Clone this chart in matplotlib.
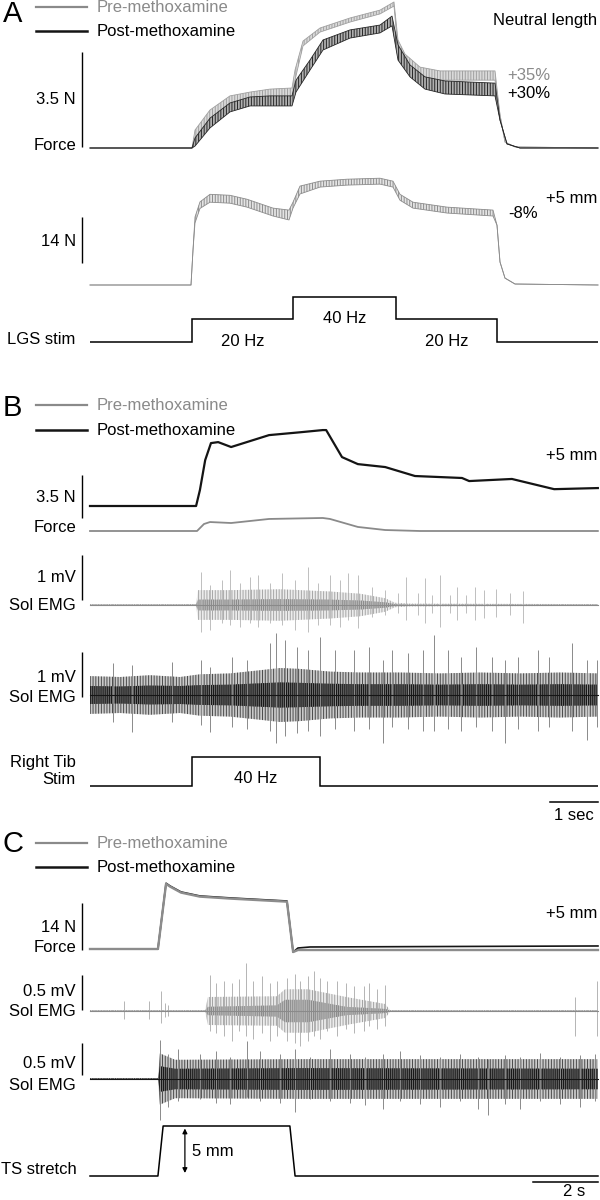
import numpy as np
import matplotlib
matplotlib.use("Agg")
import matplotlib.pyplot as plt

plt.rcParams['font.family'] = ['Liberation Sans', 'DejaVu Sans']
plt.rcParams['hatch.linewidth'] = 0.7

# ======================= DATA =======================
# ---- Panel A (time s, force N) ----
a1_pre_t  = [0, 1.02, 1.05, 1.20, 1.40, 1.60, 1.80, 2.02, 2.05, 2.13, 2.30, 2.60, 2.90, 3.04, 3.08, 3.15, 3.30, 3.50, 4.05, 4.10, 4.15, 4.25, 5.08]
a1_pre_hi = [0, 0, 0.66, 1.40, 1.92, 2.06, 2.17, 2.21, 2.87, 3.94, 4.42, 4.79, 5.08, 5.38, 3.98, 3.46, 2.98, 2.84, 2.84, 1.22, 0.22, 0.04, 0]
a1_pre_lo = [0, 0, 0.29, 1.03, 1.55, 1.69, 1.73, 1.73, 2.50, 3.76, 4.27, 4.64, 4.94, 5.23, 3.61, 3.17, 2.65, 2.50, 2.50, 1.22, 0.22, 0.04, 0]
a1_post_t  = [0, 1.02, 1.05, 1.20, 1.40, 1.60, 1.80, 2.02, 2.06, 2.20, 2.33, 2.60, 2.90, 3.02, 3.08, 3.20, 3.35, 3.55, 4.05, 4.10, 4.17, 4.30, 5.08]
a1_post_hi = [0, 0, 0.37, 1.10, 1.66, 1.88, 1.92, 1.92, 2.50, 3.24, 3.98, 4.35, 4.53, 4.86, 3.80, 3.06, 2.62, 2.47, 2.39, 1.03, 0.15, 0, 0]
a1_post_lo = [0, 0, 0.07, 0.74, 1.33, 1.55, 1.55, 1.55, 2.06, 2.87, 3.61, 4.05, 4.24, 4.50, 3.24, 2.62, 2.17, 1.99, 1.92, 1.03, 0.15, 0, 0]

a2_t      = [0, 1.01, 1.03, 1.05, 1.10, 1.20, 1.40, 1.57, 1.83, 1.99, 2.03, 2.10, 2.30, 2.57, 2.90, 3.03, 3.10, 3.23, 3.57, 4.03, 4.07, 4.10, 4.15, 4.25, 5.08]
a2_force  = [0, 0, 10.6, 19.8, 24.3, 26.4, 26.1, 24.9, 22.2, 21.3, 24.3, 28.9, 30.7, 31.3, 31.6, 30.7, 26.7, 24.3, 22.8, 21.9, 18.2, 7.0, 2.1, 0.3, 0]
a2_ripple = [0, 0, 0, 0.9, 1.0, 1.2, 1.2, 1.2, 1.2, 1.5, 0.9, 1.2, 0.9, 0.9, 0.9, 0.9, 0.9, 0.9, 0.9, 0.9, 0, 0, 0, 0, 0]

lgs_edges = [0, 1.02, 2.03, 3.06, 4.07, 5.08]
lgs_hz    = [0, 20, 40, 20, 0]
lgs_labels = ["20 Hz", "40 Hz", "20 Hz"]

# ---- Panel B (time s) ----
b_pre_t  = [0, 2.23, 2.375, 2.5, 2.94, 3.73, 4.85, 5.0, 5.58, 6.15, 6.875, 10.58]
b_pre_f  = [0, 0, 0.57, 0.73, 0.65, 0.98, 1.06, 0.98, 0.33, 0.08, 0, 0]
b_post_t = [0, 2.21, 2.29, 2.40, 2.52, 2.67, 2.94, 3.73, 4.375, 4.85, 4.92, 5.25, 5.58, 6.15, 6.77, 7.75, 7.9, 8.79, 9.67, 10.58]
b_post_f = [0, 0, 1.3, 3.74, 5.12, 5.2, 4.8, 5.77, 6.0, 6.18, 6.18, 3.98, 3.41, 3.17, 2.44, 2.28, 2.03, 2.2, 1.37, 1.46]

# pre-methoxamine Sol EMG (mV)
b_pre_env_t = [0, 2.21, 2.25, 2.92, 3.96, 5.0, 5.63, 6.15, 6.35, 6.67, 10.58]
b_pre_env   = [0.02, 0.02, 0.33, 0.33, 0.35, 0.30, 0.25, 0.15, 0.05, 0.03, 0.02]
b_pre_core  = [0.01, 0.01, 0.12, 0.12, 0.13, 0.12, 0.10, 0.06, 0.02, 0.01, 0.01]
b_pre_spk_t = [2.31, 2.5, 2.75, 2.92, 3.13, 3.33, 3.5, 3.75, 4.0, 4.27, 4.54, 4.75, 5.0, 5.21, 5.38, 5.58, 5.88, 6.15, 6.42, 6.58, 6.83, 6.98, 7.13, 7.29, 7.5, 7.65, 7.83, 8.02, 8.21, 8.46, 8.75, 9.02]
b_pre_spk_up = [.73, .44, .56, .78, .49, .62, .67, .49, .71, .56, .84, .49, .67, .56, .71, .67, .40, .33, .27, .62, .27, .60, .22, .67, .22, .40, .22, .40, .33, .36, .27, .31]
b_pre_spk_dn = [.60, .56, .40, .44, .49, .40, .49, .40, .44, .56, .60, .44, .44, .49, .33, .51, .27, .22, .18, .33, .22, .40, .18, .49, .18, .33, .18, .33, .29, .27, .22, .40]

# post-methoxamine Sol EMG (mV)
b_post_env_t = [0, 0.625, 1.25, 1.875, 2.29, 2.92, 3.54, 3.96, 4.375, 5.0, 5.625, 6.46, 7.29, 8.125, 8.96, 9.79, 10.58]
b_post_env   = [.42, .40, .44, .40, .46, .48, .55, .60, .58, .52, .50, .50, .48, .50, .48, .50, .48]
b_post_core  = [.20, .19, .21, .20, .22, .23, .26, .28, .27, .25, .24, .24, .23, .24, .23, .24, .23]
b_post_spk_t = [.48, .88, 1.71, 2.31, 2.5, 2.96, 3.27, 3.75, 3.88, 4.06, 4.31, 4.54, 4.79, 5.10, 5.5, 5.81, 6.1, 6.29, 6.63, 6.94, 7.17, 7.46, 7.73, 8.04, 8.38, 8.65, 8.92, 9.33, 9.56, 10.04, 10.35, 10.56]
b_post_spk_up = [.71, .67, .73, .78, .62, .84, .78, 1.16, 1.38, 1.22, 1.07, 1.0, 1.29, 1.0, 1.0, 1.07, .78, 1.0, .93, 1.0, 1.33, 1.0, .84, 1.07, .84, .78, .84, 1.0, .84, 1.16, .78, .78]
b_post_spk_dn = [.60, .82, .60, .67, .82, .70, .75, .80, 1.07, .90, .85, .80, .90, .75, .80, .75, 1.07, .70, .75, .80, .80, .75, .80, .70, .80, 1.07, .75, .80, .70, .80, 1.0, .70]

rtib_edges = [0, 2.125, 4.79, 10.58]
rtib_hz    = [0, 40, 0]

# ---- Panel C (time s) ----
c_t      = [0, 2.09, 2.34, 2.46, 2.80, 3.38, 4.34, 6.06, 6.25, 6.40, 6.77, 15.63]
c_post_f = [0, 0, 19.6, 18.8, 17.0, 15.8, 15.2, 14.3, -0.9, 0.3, 0.6, 0.9]
c_pre_f  = [0, 0, 19.4, 18.6, 16.8, 15.6, 15.0, 14.1, -0.9, -0.3, -0.3, -0.3]

c_pre_env_t = [0, 3.54, 3.63, 5.75, 6.0, 6.71, 7.88, 9.08, 9.23, 15.63]
c_pre_env   = [.014, .014, .20, .21, .31, .31, .20, .10, .014, .014]
c_pre_core  = [.007, .007, .06, .08, .16, .16, .06, .03, .007, .007]
c_pre_spk_t = [1.05, 1.82, 2.18, 2.31, 2.4, 3.69, 3.88, 4.12, 4.37, 4.58, 4.8, 5.02, 5.29, 5.54, 5.75, 6.06, 6.31, 6.46, 6.71, 6.89, 7.08, 7.29, 7.6, 7.88, 8.12, 8.43, 8.58, 8.83, 9.08, 14.92, 15.6]
c_pre_spk_up = [.14, .14, .29, .11, .09, .51, .40, .43, .40, .46, .69, .43, .50, .40, .43, .47, .53, .43, .50, .57, .47, .43, .43, .40, .36, .36, .40, .31, .37, .20, .43]
c_pre_spk_dn = [.11, .11, .17, .09, .07, .29, .31, .36, .43, .29, .36, .40, .31, .43, .36, .43, .46, .50, .43, .36, .40, .29, .36, .26, .31, .29, .21, .26, .21, .36, .36]

c_post_env_t = [0, 2.09, 2.15, 2.62, 6.46, 15.63]
c_post_env   = [.015, .015, .40, .30, .31, .31]
c_post_core  = [.008, .008, .20, .16, .17, .16]
c_post_spk_t = [2.15, 2.4, 2.71, 3.38, 3.88, 4.31, 4.83, 5.23, 5.85, 6.31, 6.77, 7.38, 8.0, 8.46, 9.02, 9.54, 10.15, 10.77, 11.38, 11.94, 12.25, 12.77, 13.23, 13.85, 14.46, 15.08, 15.54]
c_post_spk_up = [.61, .39, .47, .39, .44, .34, .59, .44, .39, .47, .34, .47, .39, .34, .39, .44, .38, .34, .39, .34, .31, .38, .34, .41, .34, .38, .39]
c_post_spk_dn = [.64, .44, .34, .31, .38, .39, .28, .34, .38, .52, .31, .34, .38, .41, .47, .34, .39, .44, .34, .47, .56, .39, .47, .34, .39, .44, .34]

ts_t  = [0, 2.09, 2.25, 6.15, 6.31, 15.63]
ts_mm = [0, 0, 5, 5, 0, 0]

# ======================= LAYOUT =======================
W, H = 600, 1200
fig = plt.figure(figsize=(6, 12), dpi=100)
DGREY = '#8a8a8a'
BLACK = '#141414'
FS = 12

def trace_ax(base_px, ppu, pps, x0_px=90):
    ax = fig.add_axes([0, 0, 1, 1])
    ax.set_xlim(-x0_px / pps, (W - x0_px) / pps)
    ax.set_ylim((base_px - H) / ppu, base_px / ppu)
    ax.axis('off')
    ax.patch.set_alpha(0)
    return ax

def txt(x, y, s, ha='right', color='black', size=FS, **kw):
    fig.text(x / W, 1 - y / H, s, ha=ha, va='center', color=color, fontsize=size, **kw)

def vbar(ax, pps, bottom, length, x_px=82):
    tx = (x_px - 90) / pps
    ax.plot([tx, tx], [bottom, bottom + length], color='black', lw=1.0, solid_capstyle='butt')

def band(ax, t, lo, hi, face, hatch_col, hatch='||||||', z=2):
    ax.fill_between(t, lo, hi, facecolor=face, edgecolor=hatch_col, hatch=hatch, lw=0, zorder=z)
    ax.plot(t, hi, color=hatch_col, lw=0.6, zorder=z)
    ax.plot(t, lo, color=hatch_col, lw=0.6, zorder=z)

def draw_emg(ax, et, eo, ec, st, su, sd, c_face, c_hatch, c_cface, c_core, c_spk, lw_spk=0.6):
    eo = np.asarray(eo); ec = np.asarray(ec)
    ax.fill_between(et, -eo, eo, facecolor=c_face, edgecolor=c_hatch, hatch='||||||', lw=0)
    ax.vlines(st, -np.asarray(sd), su, color=c_spk, lw=lw_spk)
    ax.fill_between(et, -ec, ec, facecolor=c_cface, edgecolor=c_core, hatch='||||||||', lw=0)
    ax.plot([et[0], et[-1]], [0, 0], color=c_core, lw=0.8)

ov = fig.add_axes([0, 0, 1, 1])
ov.set_xlim(0, W); ov.set_ylim(H, 0); ov.axis('off'); ov.patch.set_alpha(0)

def legend(y_pre, y_post):
    ov.plot([36, 87], [y_pre, y_pre], color=DGREY, lw=1.6)
    ov.plot([36, 87], [y_post, y_post], color=BLACK, lw=1.8)
    txt(97, y_pre, "Pre-methoxamine", ha='left', color=DGREY)
    txt(97, y_post, "Post-methoxamine", ha='left')

# ---------------- Panel A ----------------
txt(3, 14, "A", ha='left', size=21)
legend(7, 31)

ppsA = 100.0
ax = trace_ax(148, 95 / 3.5, ppsA)
band(ax, a1_pre_t, a1_pre_lo, a1_pre_hi, '#dadada', '#a0a0a0')
band(ax, a1_post_t, a1_post_lo, a1_post_hi, '#b0b0b0', '#262626', z=3)
vbar(ax, ppsA, 0.04, 3.5)
txt(76, 100, "3.5 N"); txt(76, 145, "Force")
txt(597, 20, "Neutral length")
txt(507, 76, "+35%", ha='left', color=DGREY)
txt(507, 93, "+30%", ha='left')

ax = trace_ax(285, 46 / 14, ppsA)
f = np.asarray(a2_force); r = np.asarray(a2_ripple)
band(ax, a2_t, f - r, f + r, '#e4e4e4', '#8c8c8c')
vbar(ax, ppsA, 6.7, 14)
txt(76, 242, "14 N")
txt(597, 199, "+5 mm")
txt(508, 213, "-8%", ha='left')

ax = trace_ax(342, 1.13, ppsA)
ax.stairs(lgs_hz, lgs_edges, color='black', lw=1.1, baseline=None)
for i, lab in enumerate(lgs_labels):
    tm = 0.5 * (lgs_edges[i + 1] + lgs_edges[i + 2])
    yv = lgs_hz[i + 1]
    ax.text(tm, yv - (20 if yv < 30 else 19), lab, ha='center', va='center', fontsize=FS)
txt(75, 340, "LGS stim", ha='right')

# ---------------- Panel B ----------------
txt(3, 408, "B", ha='left', size=21)
legend(405, 430)
ppsB = 48.0
ax = trace_ax(531, 43 / 3.5, ppsB)
ax.plot(b_pre_t, b_pre_f, color=DGREY, lw=1.3)
vbar(ax, ppsB, 1.06, 3.5)
ax = trace_ax(506, 43 / 3.5, ppsB)
ax.plot(b_post_t, b_post_f, color=BLACK, lw=1.6)
txt(76, 497, "3.5 N"); txt(76, 527, "Force")
txt(597, 456, "+5 mm")

ax = trace_ax(605, 45, ppsB)
draw_emg(ax, b_pre_env_t, b_pre_env, b_pre_core, b_pre_spk_t, b_pre_spk_up, b_pre_spk_dn,
         '#ececec', '#a6a6a6', '#bdbdbd', '#8a8a8a', '#b4b4b4')
vbar(ax, ppsB, 0.11, 1.0)
txt(76, 578, "1 mV"); txt(76, 605, "Sol EMG")

ax = trace_ax(695, 45, ppsB)
draw_emg(ax, b_post_env_t, b_post_env, b_post_core, b_post_spk_t, b_post_spk_up, b_post_spk_dn,
         '#cacaca', '#4a4a4a', '#6a6a6a', '#151515', '#8a8a8a', 0.7)
vbar(ax, ppsB, -0.04, 1.0)
txt(76, 677, "1 mV"); txt(76, 697, "Sol EMG")

ax = trace_ax(786, 29 / 40, ppsB)
ax.stairs(rtib_hz, rtib_edges, color='black', lw=1.1, baseline=None)
ax.text(0.5 * (rtib_edges[1] + rtib_edges[2]), 40 * 0.25, "40 Hz", ha='center', va='center', fontsize=FS)
ax.plot([rtib_edges[-1] - 1.0, rtib_edges[-1]], [-22, -22], color='black', lw=1.1)
txt(76, 763, "Right Tib"); txt(76, 780, "Stim")
txt(574, 816, "1 sec", ha='center')

# ---------------- Panel C ----------------
txt(3, 844, "C", ha='left', size=21)
legend(843, 867)
ppsC = 32.5
ax = trace_ax(949, 47 / 14, ppsC)
ax.plot(c_t, c_post_f, color=BLACK, lw=1.2)
ax.plot(c_t, c_pre_f, color='#8c8c8c', lw=1.7)
vbar(ax, ppsC, -0.3, 14)
txt(76, 928, "14 N"); txt(76, 947, "Force")
txt(597, 913, "+5 mm")

ax = trace_ax(1011, 70, ppsC)
draw_emg(ax, c_pre_env_t, c_pre_env, c_pre_core, c_pre_spk_t, c_pre_spk_up, c_pre_spk_dn,
         '#ececec', '#a2a2a2', '#bdbdbd', '#8a8a8a', '#a8a8a8')
vbar(ax, ppsC, 0.014, 0.5)
txt(76, 992, "0.5 mV"); txt(76, 1011, "Sol EMG")

ax = trace_ax(1079, 64, ppsC)
draw_emg(ax, c_post_env_t, c_post_env, c_post_core, c_post_spk_t, c_post_spk_up, c_post_spk_dn,
         '#cacaca', '#4a4a4a', '#6a6a6a', '#151515', '#8a8a8a', 0.7)
vbar(ax, ppsC, 0.06, 0.5)
txt(76, 1063, "0.5 mV"); txt(76, 1085, "Sol EMG")

ax = trace_ax(1176, 10, ppsC)
ax.plot(ts_t, ts_mm, color='black', lw=1.1)
tarrow = 2.92
ax.annotate('', xy=(tarrow, 4.75), xytext=(tarrow, 0.3),
            arrowprops=dict(arrowstyle='<|-|>', color='black', lw=0.9, mutation_scale=7, shrinkA=0, shrinkB=0))
ax.text(3.15, 2.4, "5 mm", ha='left', va='center', fontsize=FS)
ax.plot([ts_t[-1] - 2.0, ts_t[-1]], [-0.6, -0.6], color='black', lw=1.1)
txt(77, 1170, "TS stretch")
txt(574, 1191, "2 s", ha='center')

fig.savefig("out.png", dpi=100, facecolor='white')
